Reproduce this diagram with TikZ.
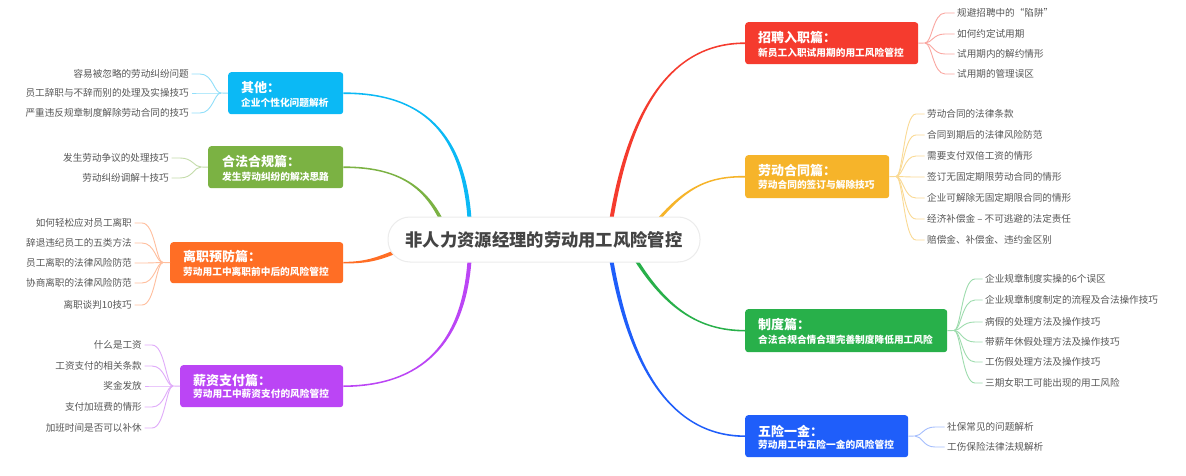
\documentclass[tikz,border=0pt]{standalone}
\usepackage{fontspec}
\setmainfont{Noto Sans CJK SC}
\usetikzlibrary{calc}
\pgfdeclarelayer{bg}
\pgfsetlayers{bg,main}
\definecolor{cred}{HTML}{F53B2E}
\definecolor{corange}{HTML}{F6B42A}
\definecolor{cgreen}{HTML}{28B04A}
\definecolor{cblue}{HTML}{1F5EFA}
\definecolor{ccyan}{HTML}{0BB9F5}
\definecolor{colive}{HTML}{7BB243}
\definecolor{cdorange}{HTML}{FF6E25}
\definecolor{cpurple}{HTML}{BB45F5}
\definecolor{leafgray}{HTML}{575757}
\definecolor{textdark}{HTML}{444444}
% tapered connector: colour, start, control 1, control 2, end, start half-width offset, end half-width offset
\newcommand{\tapercurve}[7]{%
  \fill[#1] ($#2+#6$) .. controls ($#3+#6$) and ($#4+#7$) .. ($#5+#7$)
     -- ($#5-#7$) .. controls ($#4-#7$) and ($#3-#6$) .. ($#2-#6$) -- cycle;}
\begin{document}
\begin{tikzpicture}[x=1pt,y=-1pt,
  hbox/.style={rectangle, rounded corners=3pt, inner sep=0pt, anchor=north west},
  ttl/.style={anchor=west, inner sep=0pt, text=white, font=\fontsize{13}{15}\selectfont\bfseries},
  sub/.style={anchor=west, inner sep=0pt, text=white, font=\fontsize{9.7}{12}\selectfont\bfseries},
  leaf/.style={inner sep=2.5pt, text=leafgray, font=\fontsize{9.6}{12}\selectfont},
  leafline/.style={line width=0.9pt},
]
\useasboundingbox (0,0) rectangle (1186,476);

% centre
\node[draw=gray!15, fill=white, rounded corners=22pt, minimum width=312pt, minimum height=45pt,
      line width=1pt, text=textdark, font=\fontsize{17.3}{20}\selectfont\bfseries] (c) at (544,239.5)
      {非人力资源经理的劳动用工风险管控};

% ---------- right side boxes ----------
\node[hbox, fill=cred, minimum width=173pt, minimum height=42pt] (b1) at (745,22) {};
\node[ttl] (t1) at (758,38) {招聘入职篇：};
\node[sub] (s1) at (758,53) {新员工入职试用期的用工风险管控};

\node[hbox, fill=corange, minimum width=144pt, minimum height=43pt] (b2) at (745,155) {};
\node[ttl] (t2) at (758,171) {劳动合同篇：};
\node[sub] (s2) at (758,185) {劳动合同的签订与解除技巧};

\node[hbox, fill=cgreen, minimum width=202pt, minimum height=43pt] (b3) at (745,309) {};
\node[ttl] (t3) at (758,325) {制度篇：};
\node[sub] (s3) at (758,340) {合法合规合情合理完善制度降低用工风险};

\node[hbox, fill=cblue, minimum width=163pt, minimum height=42pt] (b4) at (745,415) {};
\node[ttl] (t4) at (758,431) {五险一金：};
\node[sub] (s4) at (758,445) {劳动用工中五险一金的风险管控};

% ---------- left side boxes ----------
\node[hbox, fill=ccyan, minimum width=115pt, minimum height=42pt] (b5) at (228,72) {};
\node[ttl] (t5) at (241,88) {其他：};
\node[sub] (s5) at (241,103) {企业个性化问题解析};

\node[hbox, fill=colive, minimum width=135pt, minimum height=42pt] (b6) at (208,146) {};
\node[ttl] (t6) at (222,162) {合法合规篇：};
\node[sub] (s6) at (222,177) {发生劳动纠纷的解决思路};

\node[hbox, fill=cdorange, minimum width=173pt, minimum height=41pt] (b7) at (170,242) {};
\node[ttl] (t7) at (183,257) {离职预防篇：};
\node[sub] (s7) at (183,272) {劳动用工中离职前中后的风险管控};

\node[hbox, fill=cpurple, minimum width=163pt, minimum height=42pt] (b8) at (180,365) {};
\node[ttl] (t8) at (193,381) {薪资支付篇：};
\node[sub] (s8) at (193,394) {劳动用工中薪资支付的风险管控};

% ---------- main connectors (tapered) ----------
\begin{pgfonlayer}{bg}
\fill[white] (0,0) rectangle (1186,476);
\coordinate (m1) at (610,228);
\coordinate (m2) at (650,230);
\coordinate (m3) at (630,250);
\coordinate (m4) at (610,252);
\coordinate (m5) at (470,228);
\coordinate (m6) at (445,228);
\coordinate (m7) at (395,252);
\coordinate (m8) at (470,252);
\tapercurve{cred}{(m1)}{(625,130)}{(660,43)}{(b1.west)}{(-2,0)}{(0,-0.8)}
\tapercurve{corange}{(m2)}{(685,185)}{(710,176.5)}{(b2.west)}{(-2,0)}{(0,-0.8)}
\tapercurve{cgreen}{(m3)}{(665,310)}{(700,330.5)}{(b3.west)}{(-2,0)}{(0,0.8)}
\tapercurve{cblue}{(m4)}{(625,345)}{(660,436)}{(b4.west)}{(-2,0)}{(0,0.8)}
\tapercurve{ccyan}{(m5)}{(466,130)}{(420,93)}{(b5.east)}{(2,0)}{(0,-0.8)}
\tapercurve{colive}{(m6)}{(428,188)}{(400,167)}{(b6.east)}{(2,0)}{(0,-0.8)}
\tapercurve{cdorange}{(m7)}{(375,260)}{(365,262.5)}{(b7.east)}{(0,-2)}{(0,-0.8)}
\tapercurve{cpurple}{(m8)}{(466,345)}{(420,386)}{(b8.east)}{(2,0)}{(0,0.8)}
\end{pgfonlayer}

% ---------- right leaves ----------
\coordinate (f1) at (925,43);
\draw[leafline, cred!45!white] (b1.east) -- (f1);
\foreach \y/\t [count=\i] in {13/规避招聘中的“陷阱”, 34/如何约定试用期, 54/试用期内的解约情形, 74/试用期的管理误区}{
  \node[leaf, anchor=west] (r1-\i) at (954.5,\y) {\t};
  \draw[leafline, cred!45!white] (f1) .. controls (932,43) and (933,\y) .. (945,\y) -- (r1-\i.west);
}

\coordinate (f2) at (896,176.5);
\draw[leafline, corange!50!white] (b2.east) -- (f2);
\foreach \y/\t [count=\i] in {114/劳动合同的法律条款, 135/合同到期后的法律风险防范, 156/需要支付双倍工资的情形, 177/签订无固定期限劳动合同的情形, 198/企业可解除无固定期限合同的情形, 219/经济补偿金 – 不可逃避的法定责任, 240/赔偿金、补偿金、违约金区别}{
  \node[leaf, anchor=west] (r2-\i) at (924.5,\y) {\t};
  \draw[leafline, corange!50!white] (f2) .. controls (903,176.5) and (904,\y) .. (916,\y) -- (r2-\i.west);
}

\coordinate (f3) at (954,330.5);
\draw[leafline, cgreen!45!white] (b3.east) -- (f3);
\foreach \y/\t [count=\i] in {279/企业规章制度实操的6个误区, 300/企业规章制度制定的流程及合法操作技巧, 322/病假的处理方法及操作技巧, 342/带薪年休假处理方法及操作技巧, 362/工伤假处理方法及操作技巧, 383/三期女职工可能出现的用工风险}{
  \node[leaf, anchor=west] (r3-\i) at (982.5,\y) {\t};
  \draw[leafline, cgreen!45!white] (f3) .. controls (961,330.5) and (962,\y) .. (975,\y) -- (r3-\i.west);
}

\coordinate (f4) at (915,436);
\draw[leafline, cblue!40!white] (b4.east) -- (f4);
\foreach \y/\t [count=\i] in {427/社保常见的问题解析, 447/工伤保险法律法规解析}{
  \node[leaf, anchor=west] (r4-\i) at (944.5,\y) {\t};
  \draw[leafline, cblue!40!white] (f4) .. controls (922,436) and (923,\y) .. (935,\y) -- (r4-\i.west);
}

% ---------- left leaves ----------
\coordinate (f5) at (221,93);
\draw[leafline, ccyan!45!white] (b5.west) -- (f5);
\foreach \y/\t [count=\i] in {74/容易被忽略的劳动纠纷问题, 93/员工辞职与不辞而别的处理及实操技巧, 113/严重违反规章制度解除劳动合同的技巧}{
  \node[leaf, anchor=east] (l5-\i) at (191.5,\y) {\t};
  \draw[leafline, ccyan!45!white] (f5) .. controls (214,93) and (213,\y) .. (200,\y) -- (l5-\i.east);
}

\coordinate (f6) at (201,167);
\draw[leafline, colive!45!white] (b6.west) -- (f6);
\foreach \y/\t [count=\i] in {158/发生劳动争议的处理技巧, 178/劳动纠纷调解十技巧}{
  \node[leaf, anchor=east] (l6-\i) at (171.5,\y) {\t};
  \draw[leafline, colive!45!white] (f6) .. controls (194,167) and (193,\y) .. (180,\y) -- (l6-\i.east);
}

\coordinate (f7) at (163,262.5);
\draw[leafline, cdorange!45!white] (b7.west) -- (f7);
\foreach \y/\t [count=\i] in {223/如何轻松应对员工离职, 243/辞退违纪员工的五类方法, 263/员工离职的法律风险防范, 283/协商离职的法律风险防范, 305/离职谈判10技巧}{
  \node[leaf, anchor=east] (l7-\i) at (134.5,\y) {\t};
  \draw[leafline, cdorange!45!white] (f7) .. controls (156,262.5) and (155,\y) .. (142,\y) -- (l7-\i.east);
}

\coordinate (f8) at (173,386);
\draw[leafline, cpurple!45!white] (b8.west) -- (f8);
\foreach \y/\t [count=\i] in {345/什么是工资, 366/工资支付的相关条款, 386/奖金发放, 407/支付加班费的情形, 428/加班时间是否可以补休}{
  \node[leaf, anchor=east] (l8-\i) at (144.5,\y) {\t};
  \draw[leafline, cpurple!45!white] (f8) .. controls (166,386) and (165,\y) .. (152,\y) -- (l8-\i.east);
}
\end{tikzpicture}
\end{document}
